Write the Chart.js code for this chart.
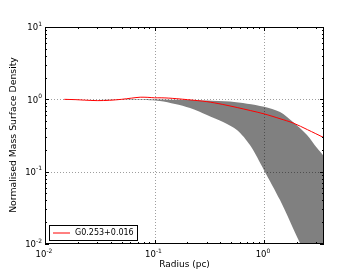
<!DOCTYPE html>
<html>
<head>
<meta charset="UTF-8">
<script src="https://cdn.jsdelivr.net/npm/chart.js"></script>
<style>
  html, body { margin: 0; padding: 0; background: #fff; }
  #wrap { width: 360px; height: 272px; }
</style>
</head>
<body>
<div id="wrap"><canvas id="c" width="360" height="272"></canvas></div>
<script>
// observed profile (red line)
const profR = [0.015, 0.019, 0.023, 0.03, 0.039, 0.05, 0.062, 0.074, 0.087, 0.1, 0.115, 0.135, 0.16, 0.2, 0.3, 0.42, 0.57, 0.75, 1.0, 1.4, 1.85, 2.5, 3.53];
const profS = [1.0, 0.99, 0.975, 0.96, 0.97, 1.0, 1.04, 1.07, 1.065, 1.05, 1.05, 1.04, 1.02, 0.99, 0.93, 0.85, 0.77, 0.70, 0.63, 0.54, 0.47, 0.38, 0.295];

// grey band, upper edge
const upR = [0.015, 0.05, 0.1, 0.2, 0.3, 0.49, 0.7, 1.0, 1.4, 1.84, 2.47, 3.05, 3.53];
const upS = [1.0, 1.0, 0.995, 0.98, 0.96, 0.93, 0.87, 0.79, 0.667, 0.485, 0.321, 0.212, 0.164];

// grey band, lower edge
const loR = [0.015, 0.04, 0.07, 0.091, 0.112, 0.154, 0.211, 0.301, 0.423, 0.566, 0.744, 1.0, 1.4, 2.13, 3.53];
const loS = [1.0, 0.995, 0.985, 0.97, 0.947, 0.861, 0.758, 0.607, 0.485, 0.376, 0.233, 0.105, 0.0405, 0.0103, 0.0022];

const xMajor = [0.01, 0.1, 1];
const yMajor = [10, 1, 0.1, 0.01];
const xLabels = ['-2', '-1', '0'];
const yLabels = ['1', '0', '-1', '-2'];
const legendText = 'G0.253+0.016';

const pts = (xs, ys) => xs.map((x, i) => ({ x: x, y: ys[i] }));

function minors(min, max) {
  const out = [];
  for (let d = Math.floor(Math.log10(min)); d <= Math.ceil(Math.log10(max)); d++) {
    for (let m = 2; m <= 9; m++) {
      const v = m * Math.pow(10, d);
      if (v > min && v < max) out.push(v);
    }
  }
  return out;
}

function sup(ctx, base, exp, x, y, align) {
  ctx.font = '8.5px "DejaVu Sans"';
  const wb = ctx.measureText(base).width;
  ctx.font = '6px "DejaVu Sans"';
  const we = ctx.measureText(exp).width;
  let x0 = x;
  if (align === 'center') x0 = x - (wb + we) / 2;
  if (align === 'right') x0 = x - wb - we;
  ctx.textAlign = 'left';
  ctx.textBaseline = 'middle';
  ctx.font = '8.5px "DejaVu Sans"';
  ctx.fillText(base, x0, y);
  ctx.font = '6px "DejaVu Sans"';
  ctx.fillText(exp, x0 + wb, y - 4);
}

const axesPlugin = {
  id: 'axesPlugin',
  beforeDatasetDraw(chart, args) {
    if (args.index !== 0) return;
    const { ctx, chartArea: a, scales } = chart;
    ctx.save();
    ctx.strokeStyle = 'rgba(0,0,0,0.55)';
    ctx.lineWidth = 0.7;
    ctx.setLineDash([1, 2]);
    xMajor.forEach(v => {
      const px = Math.round(scales.x.getPixelForValue(v)) + 0.5;
      if (px <= a.left + 1 || px >= a.right - 1) return;
      ctx.beginPath(); ctx.moveTo(px, a.top); ctx.lineTo(px, a.bottom); ctx.stroke();
    });
    yMajor.forEach(v => {
      const py = Math.round(scales.y.getPixelForValue(v)) + 0.5;
      if (py <= a.top + 1 || py >= a.bottom - 1) return;
      ctx.beginPath(); ctx.moveTo(a.left, py); ctx.lineTo(a.right, py); ctx.stroke();
    });
    ctx.restore();
  },
  afterDraw(chart) {
    const { ctx, chartArea: a, scales } = chart;
    ctx.save();
    ctx.strokeStyle = '#000';
    ctx.lineWidth = 1;
    // ticks, inward, all four sides
    const xs = scales.x, ys = scales.y;
    const tick = (px, len, horiz) => {
      ctx.beginPath();
      if (horiz) {
        ctx.moveTo(px, a.bottom); ctx.lineTo(px, a.bottom - len);
        ctx.moveTo(px, a.top); ctx.lineTo(px, a.top + len);
      } else {
        ctx.moveTo(a.left, px); ctx.lineTo(a.left + len, px);
        ctx.moveTo(a.right, px); ctx.lineTo(a.right - len, px);
      }
      ctx.stroke();
    };
    xMajor.forEach(v => tick(Math.round(xs.getPixelForValue(v)) + 0.5, 4, true));
    minors(xs.min, xs.max).forEach(v => tick(Math.round(xs.getPixelForValue(v)) + 0.5, 2, true));
    yMajor.forEach(v => tick(Math.round(ys.getPixelForValue(v)) + 0.5, 4, false));
    minors(ys.min, ys.max).forEach(v => tick(Math.round(ys.getPixelForValue(v)) + 0.5, 2, false));
    // frame
    ctx.strokeRect(a.left + 0.5, a.top + 0.5, a.right - a.left - 1, a.bottom - a.top - 1);

    // tick labels
    ctx.fillStyle = '#000';
    xMajor.forEach((v, i) => sup(ctx, '10', xLabels[i], xs.getPixelForValue(v) - 1, a.bottom + 11, 'center'));
    yMajor.forEach((v, i) => sup(ctx, '10', yLabels[i], a.left - 3, ys.getPixelForValue(v) + 1, 'right'));

    // axis titles
    ctx.font = '9px "DejaVu Sans"';
    ctx.textAlign = 'center';
    ctx.textBaseline = 'middle';
    ctx.fillText('Radius (pc)', (a.left + a.right) / 2, 264.5);
    ctx.save();
    ctx.translate(14, 135);
    ctx.rotate(-Math.PI / 2);
    ctx.font = '9.3px "DejaVu Sans"';
    ctx.fillText('Normalised Mass Surface Density', 0, 0);
    ctx.restore();

    // legend
    const lx = 49, ly = 225, lw = 88, lh = 15;
    ctx.fillStyle = '#fff';
    ctx.fillRect(lx, ly, lw, lh);
    ctx.strokeStyle = '#000';
    ctx.lineWidth = 1;
    ctx.strokeRect(lx + 0.5, ly + 0.5, lw, lh);
    ctx.strokeStyle = '#ff0000';
    ctx.beginPath(); ctx.moveTo(lx + 4, ly + 8); ctx.lineTo(lx + 21, ly + 8); ctx.stroke();
    ctx.fillStyle = '#000';
    ctx.font = '8px "DejaVu Sans"';
    ctx.textAlign = 'left';
    ctx.fillText(legendText, lx + 26, ly + 8);
    ctx.restore();
  }
};

new Chart(document.getElementById('c'), {
  type: 'scatter',
  data: {
    datasets: [
      {
        data: pts(profR, profS),
        showLine: true,
        borderColor: '#ff0000',
        borderWidth: 1,
        pointRadius: 0,
        tension: 0.3,
        fill: false
      },
      {
        data: pts(upR, upS),
        showLine: true,
        borderWidth: 0,
        borderColor: 'rgba(0,0,0,0)',
        pointRadius: 0,
        tension: 0.3,
        fill: false
      },
      {
        data: pts(loR, loS),
        showLine: true,
        borderWidth: 0,
        borderColor: 'rgba(0,0,0,0)',
        backgroundColor: '#808080',
        pointRadius: 0,
        tension: 0.3,
        fill: '-1'
      }
    ]
  },
  options: {
    responsive: false,
    animation: false,
    layout: { padding: { left: 45, right: 36, top: 27, bottom: 28 } },
    plugins: { legend: { display: false }, tooltip: { enabled: false } },
    scales: {
      x: {
        type: 'logarithmic', min: 0.01, max: 3.53,
        ticks: { display: false },
        grid: { display: false, drawTicks: false },
        border: { display: false }
      },
      y: {
        type: 'logarithmic', min: 0.01, max: 10,
        ticks: { display: false },
        grid: { display: false, drawTicks: false },
        border: { display: false }
      }
    }
  },
  plugins: [axesPlugin]
});
</script>
</body>
</html>
